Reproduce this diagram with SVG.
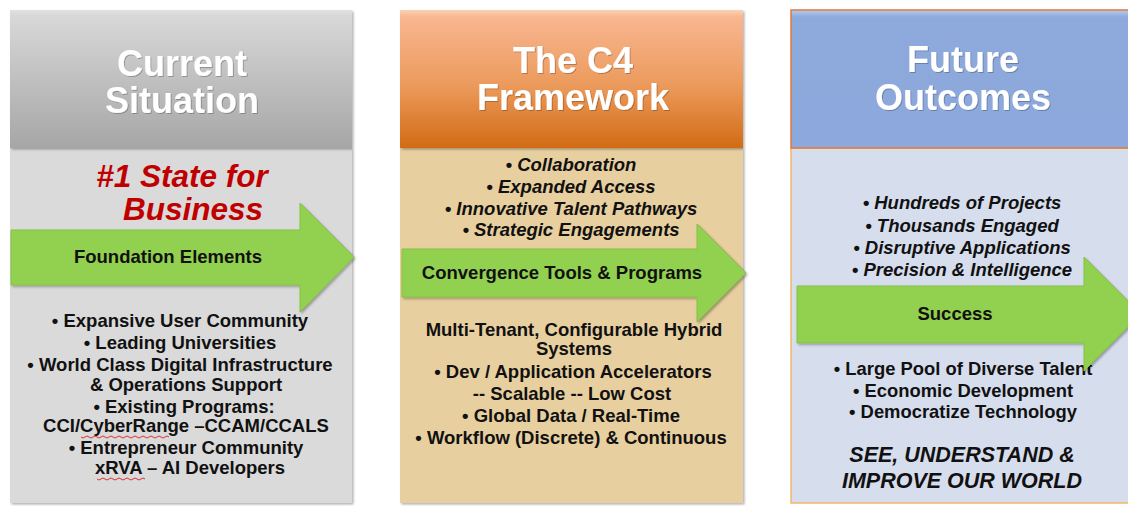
<svg xmlns="http://www.w3.org/2000/svg" width="1128" height="506" viewBox="0 0 1128 506">
  <defs>
    <linearGradient id="gGray" x1="0" y1="0" x2="0" y2="1">
      <stop offset="0" stop-color="#e2e2e2"/>
      <stop offset="0.04" stop-color="#d8d8d8"/>
      <stop offset="1" stop-color="#a6a6a6"/>
    </linearGradient>
    <linearGradient id="gOrange" x1="0" y1="0" x2="0" y2="1">
      <stop offset="0" stop-color="#fcd2b4"/>
      <stop offset="0.05" stop-color="#f9b690"/>
      <stop offset="0.55" stop-color="#eb9a5c"/>
      <stop offset="1" stop-color="#d26b14"/>
    </linearGradient>
    <linearGradient id="gBlue" x1="0" y1="0" x2="0" y2="1">
      <stop offset="0" stop-color="#b7cbee"/>
      <stop offset="0.05" stop-color="#8eaadc"/>
      <stop offset="1" stop-color="#8ca8dc"/>
    </linearGradient>
    <filter id="sh" x="-5%" y="-5%" width="115%" height="115%">
      <feDropShadow dx="1.5" dy="1.5" stdDeviation="1.2" flood-color="#000" flood-opacity="0.3"/>
    </filter>
    <filter id="tsh" x="-5%" y="-20%" width="110%" height="140%">
      <feDropShadow dx="1" dy="1" stdDeviation="0.6" flood-color="#000" flood-opacity="0.25"/>
    </filter>
  </defs>
  <style>
    text { font-family: "Liberation Sans", Arial, sans-serif; font-weight: bold; text-anchor: middle; fill: #111; }
    .hd { font-size: 36px; fill: #ffffff; }
    .red { font-size: 31.5px; font-style: italic; fill: #c00000; }
    .li { font-size: 18.5px; }
    .li3 { font-size: 18.4px; }
    .it { font-size: 18.5px; font-style: italic; }
    .big { font-size: 21.5px; font-style: italic; }
    .arrow { fill: #92d050; stroke: #86c044; stroke-width: 1; filter: url(#sh); }
    .al { font-size: 18.5px; }
    .wavy { fill: none; stroke: #e03030; stroke-width: 1; }
  </style>

  <rect width="1128" height="506" fill="#ffffff"/>

  <g id="current-situation">
    <rect x="10" y="148" width="342" height="355" fill="#dadada" filter="url(#sh)"/>
    <rect x="10" y="10" width="342" height="138" fill="url(#gGray)" filter="url(#sh)"/>
    <text class="hd" x="182" y="76" filter="url(#tsh)">Current</text>
    <text class="hd" x="182" y="113" filter="url(#tsh)">Situation</text>
    <text class="red" x="182" y="187">#1 State for</text>
    <text class="red" x="193" y="220">Business</text>
    <text class="li" x="180" y="327">• Expansive User Community</text>
    <text class="li" x="180" y="349">• Leading Universities</text>
    <text class="li" x="180" y="371">• World Class Digital Infrastructure</text>
    <text class="li" x="186" y="391">&amp; Operations Support</text>
    <text class="li" x="184" y="413">• Existing Programs:</text>
    <text class="li" x="186" y="432">CCI/CyberRange –CCAM/CCALS</text>
    <text class="li" x="186" y="454">• Entrepreneur Community</text>
    <text class="li" x="190" y="474">xRVA – AI Developers</text>
    <path class="wavy" d="M81 437 q2 2 4 0 t4 0 t4 0 t4 0 t4 0 t4 0 t4 0 t4 0 t4 0 t4 0 t4 0 t4 0 t4 0 t4 0 t4 0 t4 0 t4 0 t4 0 t4 0 t4 0 t4 0 t4 0"/>
    <path class="wavy" d="M97 479 q2 2 4 0 t4 0 t4 0 t4 0 t4 0 t4 0 t4 0 t4 0 t4 0 t4 0 t4 0 t4 0"/>
  </g>

  <g id="c4-framework">
    <rect x="400" y="148" width="343" height="355" fill="#e8cf9f" filter="url(#sh)"/>
    <rect x="400" y="10" width="343" height="138" fill="url(#gOrange)" filter="url(#sh)"/>
    <text class="hd" x="573" y="73" filter="url(#tsh)">The C4</text>
    <text class="hd" x="573" y="110" filter="url(#tsh)">Framework</text>
    <text class="it" x="571" y="171">• Collaboration</text>
    <text class="it" x="571" y="193">• Expanded Access</text>
    <text class="it" x="571" y="215">• Innovative Talent Pathways</text>
    <text class="it" x="571" y="236">• Strategic Engagements</text>
    <text class="li" x="574" y="336">Multi-Tenant, Configurable Hybrid</text>
    <text class="li" x="574" y="355">Systems</text>
    <text class="li" x="573" y="378">• Dev / Application Accelerators</text>
    <text class="li" x="572" y="400">-- Scalable -- Low Cost</text>
    <text class="li" x="571" y="422">• Global Data / Real-Time</text>
    <text class="li" x="571" y="444">• Workflow (Discrete) &amp; Continuous</text>
  </g>

  <g id="future-outcomes">
    <rect x="791" y="148" width="345" height="355" fill="#d6dded" stroke="#f0b868" stroke-width="1.5"/>
    <rect x="791" y="10" width="345" height="138" fill="url(#gBlue)" stroke="#e07a3a" stroke-width="1.5"/>
    <text class="hd" x="963" y="72" filter="url(#tsh)">Future</text>
    <text class="hd" x="963" y="110" filter="url(#tsh)">Outcomes</text>
    <text class="it" x="962" y="209">• Hundreds of Projects</text>
    <text class="it" x="962" y="232">• Thousands Engaged</text>
    <text class="it" x="962" y="254">• Disruptive Applications</text>
    <text class="it" x="962" y="276">• Precision &amp; Intelligence</text>
    <text class="li3" x="963" y="375">• Large Pool of Diverse Talent</text>
    <text class="li3" x="963" y="397">• Economic Development</text>
    <text class="li3" x="963" y="418">• Democratize Technology</text>
    <text class="big" x="962" y="462">SEE, UNDERSTAND &amp;</text>
    <text class="big" x="962" y="488">IMPROVE OUR WORLD</text>
  </g>

  <g id="connectors">
    <g id="arrow-foundation">
      <path class="arrow" d="M11 230 H300 V203 L354 257 L300 312 V285 H11 Z"/>
      <text class="al" x="168" y="263">Foundation Elements</text>
    </g>
    <g id="arrow-convergence">
      <path class="arrow" d="M402 249 H697 V224 L746 273 L697 322 V297 H402 Z"/>
      <text class="al" x="562" y="279">Convergence Tools &amp; Programs</text>
    </g>
    <g id="arrow-success">
      <path class="arrow" d="M797 286 H1084 V257 L1141 314 L1084 371 V343 H797 Z"/>
      <text class="al" x="955" y="320">Success</text>
    </g>
  </g>
</svg>
